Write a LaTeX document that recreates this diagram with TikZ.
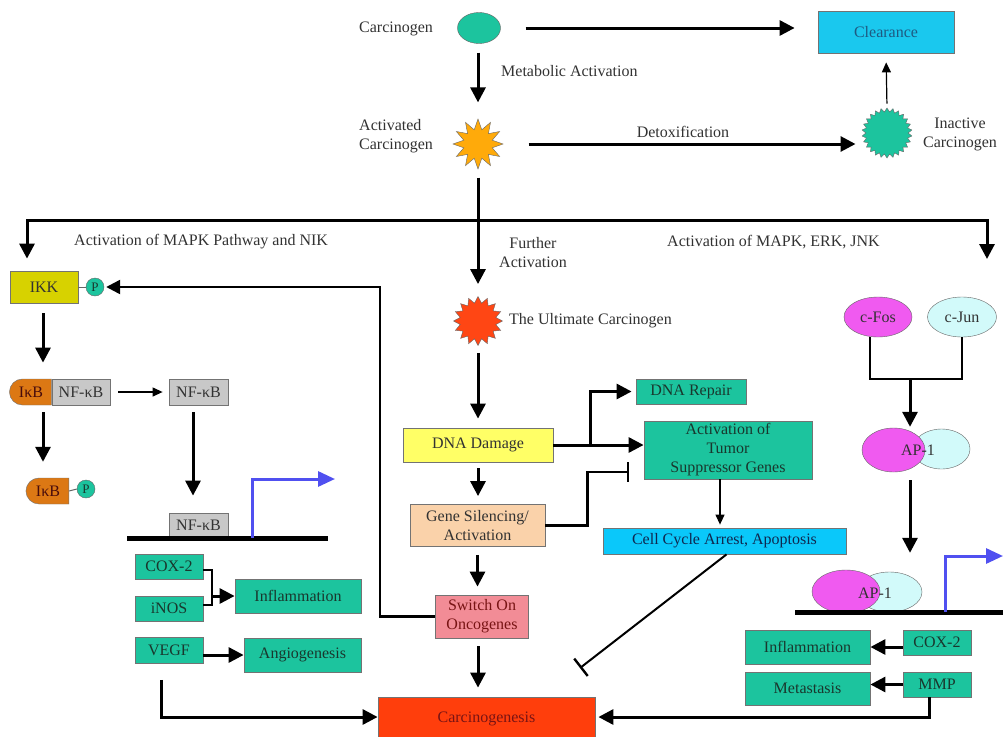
\documentclass[tikz,border=0pt]{standalone}
\usepackage{fontspec}
\setmainfont{Liberation Serif}
\usetikzlibrary{arrows.meta,shapes.geometric,shapes.misc,calc}
\definecolor{tealA}{RGB}{28,196,158}
\definecolor{cyanA}{RGB}{26,200,238}
\definecolor{cyanB}{RGB}{10,200,250}
\definecolor{yellowA}{RGB}{255,255,102}
\definecolor{peachA}{RGB}{250,210,170}
\definecolor{pinkA}{RGB}{242,140,150}
\definecolor{redA}{RGB}{255,62,12}
\definecolor{redB}{RGB}{255,70,20}
\definecolor{orangeA}{RGB}{255,170,10}
\definecolor{orangeB}{RGB}{220,120,20}
\definecolor{ikkY}{RGB}{215,210,0}
\definecolor{grayA}{RGB}{200,200,200}
\definecolor{magA}{RGB}{240,90,240}
\definecolor{ljA}{RGB}{210,250,250}
\definecolor{blueA}{RGB}{80,80,240}
\definecolor{txtG}{RGB}{25,55,45}
\definecolor{txtB}{RGB}{30,90,130}
\definecolor{txtN}{RGB}{15,40,80}
\definecolor{txtR}{RGB}{120,20,20}
\definecolor{txtD}{RGB}{50,50,50}
\begin{document}
\begin{tikzpicture}[x=1pt,y=-1pt,font=\fontsize{16}{19}\selectfont,
  box/.style={draw=black!55,line width=0.8pt,inner sep=1pt,align=center,text=txtD},
  tbox/.style={box,fill=tealA,text=txtG},
  lbl/.style={text=txtD,inner sep=0pt},
  big/.style={line width=3pt,-{Triangle[length=15pt,width=15pt]}},
  mid/.style={line width=2.4pt,-{Triangle[length=14pt,width=14pt]}},
  thinarr/.style={line width=1.2pt,-{Triangle[length=10pt,width=9pt]}},
  pcirc/.style={circle,draw=black!60,fill=tealA,minimum size=18pt,inner sep=0pt,font=\fontsize{13}{13}\selectfont,text=txtG},
  ikbshape/.style={rounded rectangle,rounded rectangle right arc=none,draw=black!55,fill=orangeB,minimum height=26pt,inner sep=0pt,text=txtR!60!black},
  gbox/.style={box,fill=grayA,minimum height=26pt},
  starnode/.style={star,draw=black!60,inner sep=0pt}]
\useasboundingbox (0,0) rectangle (1003,736);
\fill[white] (0,0) rectangle (1003,736);

% ---------- top ----------
\node[ellipse,draw=black!60,fill=tealA,minimum width=43pt,minimum height=31pt,inner sep=0pt] (carc) at (479,28) {};
\node[lbl,anchor=west] (carcL) at (359,29) {Carcinogen};
\node[box,fill=cyanA,text=txtB,minimum width=136pt,minimum height=42pt] (clear) at (886,32) {Clearance};
\node[starnode,star points=12,star point ratio=1.7,fill=orangeA,minimum size=50pt] (act) at (478,144) {};
\node[lbl,align=left,anchor=west] (actL) at (359,136) {Activated\\Carcinogen};
\node[lbl,anchor=west] (metL) at (501,71) {Metabolic Activation};
\node[starnode,star points=26,star point ratio=1.18,fill=tealA,minimum size=50pt] (inact) at (887,133) {};
\node[lbl,align=center] (inactL) at (960,134) {Inactive\\Carcinogen};
\node[lbl] (detL) at (683,132) {Detoxification};

\draw[big,shorten <=25pt,shorten >=23pt] (carc.east) -- (carc.east -| clear.west);
\draw[big,shorten <=9pt,shorten >=16pt] (carc.south -| act.north) -- (act.north);
\draw[big,shorten <=25pt,shorten >=10pt] (act.east) -- (act.east -| inact.west);
\draw[thinarr,shorten <=4pt,shorten >=9pt] (inact.north) -- (clear.south);

% ---------- branch ----------
\node[starnode,star points=16,star point ratio=1.35,fill=redB,minimum size=49pt] (ult) at (478,321) {};
\node[lbl,anchor=west] (ultL) at (509,321) {The Ultimate Carcinogen};
\node[lbl,align=center] (furL) at (533,253) {Further\\Activation};
\node[lbl,anchor=west] (mapkL) at (74,242) {Activation of MAPK Pathway and NIK};
\node[lbl,anchor=west] (mapkR) at (667,242) {Activation of MAPK, ERK, JNK};

\node[box,fill=ikkY,minimum width=68pt,minimum height=32pt] (ikk) at (44,287) {IKK};
\coordinate (jn) at (478,220);
\coordinate (rEnd) at (987,259);
\draw[line width=3pt,shorten <=8pt] (act.south) -- (jn);
\draw[big,shorten >=12pt] (jn) -| ([xshift=-17pt]ikk.north);
\draw[big] (jn) -| (rEnd);
\draw[big,shorten >=12pt] (jn) -- (ult.north);

% ---------- centre column ----------
\node[box,fill=yellowA,minimum width=150pt,minimum height=34pt] (dna) at (478,445) {DNA Damage};
\node[box,fill=peachA,minimum width=135pt,minimum height=42pt] (gene) at (477.5,525.5) {Gene Silencing/\\Activation};
\node[box,fill=pinkA,text=txtR,minimum width=93pt,minimum height=43pt] (sw) at (482,616.5) {Switch On\\Oncogenes};
\node[box,fill=redA,text=txtR,minimum width=217pt,minimum height=44pt] (cg) at (486.5,719) {Carcinogenesis};
\node[tbox,minimum width=110pt,minimum height=25pt] (repair) at (691,391.5) {DNA Repair};
\node[tbox,minimum width=168pt,minimum height=58pt] (tumor) at (728,450) {Activation of\\Tumor\\Suppressor Genes};
\node[box,fill=cyanB,text=txtN,minimum width=243pt,minimum height=26pt] (cell) at (724.5,541) {Cell Cycle Arrest, Apoptosis};

\draw[big,shorten <=7pt,shorten >=9pt] (ult.south) -- (dna.north);
\draw[big,shorten <=6pt,shorten >=8pt] (dna.south) -- (dna.south |- gene.north);
\draw[big,shorten <=8pt,shorten >=8pt] (gene.south) -- (gene.south |- sw.north);
\draw[big,shorten <=8pt,shorten >=9pt] (sw.south -| dna.south) -- (cg.north -| dna.south);
\draw[big] (dna.east) -- (dna.east -| tumor.west);
\coordinate (br) at ($(dna.east)+(37,0)$);
\draw[big,shorten >=4pt] (br) |- (repair.west);
\coordinate (inhT) at (629,472);
\draw[line width=2.4pt,-{Bar[width=20pt,line width=2.4pt]}] (gene.east) -- ++(42,0) |- (inhT);
\draw[thinarr,shorten >=3pt] ([xshift=-8pt]tumor.south) -- ([xshift=-8pt]tumor.south |- cell.north);
\coordinate (inhB) at (580,668);
\draw[line width=2pt,-{Bar[width=22pt,line width=2.4pt]}] ([xshift=2pt]cell.south) -- (inhB);

% ---------- left column ----------
\node[pcirc] (p1) at (95,287) {P};
\draw[line width=1pt,black!60] (ikk.east) -- (p1.west);
\draw[mid,shorten >=2pt] (sw.west) -- ++(-55,0) |- (p1.east);
\node[ikbshape,minimum width=42pt] (ikb1) at (31,392) {IκB};
\node[gbox,minimum width=58pt] (nf1) at (81,392) {NF-κB};
\node[gbox,minimum width=59pt] (nf2) at (198.5,392) {NF-κB};
\node[ikbshape,minimum width=43pt] (ikb2) at (48,491) {IκB};
\node[pcirc] (p2) at (86,489) {P};
\draw[line width=1pt,black!60] (ikb2.east) -- (p2.west);
\node[gbox,minimum width=59pt,minimum height=24pt] (nf3) at (198.5,525) {NF-κB};
\draw[line width=5pt] (127,538) -- (328,538);
\draw[blueA,line width=3pt,-{Triangle[length=17pt,width=15pt]}] (252,538) |- (335,479);

\draw[big,shorten <=10pt,shorten >=16pt] ([xshift=-1pt]ikk.south) -- ([xshift=-1pt]ikk.south |- nf1.north);
\draw[thinarr,shorten <=8pt,shorten >=6pt] (nf1.east) -- (nf2.west);
\draw[big,shorten <=7pt,shorten >=16pt] ([xshift=12pt]ikb1.south) -- ([xshift=12pt]ikb1.south |- ikb2.north);
\draw[big,shorten <=7pt,shorten >=17pt] ([xshift=-5.5pt]nf2.south) -- ([xshift=-5.5pt]nf2.south |- nf3.north);

\node[tbox,minimum width=68pt,minimum height=25pt] (cox) at (169,566.5) {COX-2};
\node[tbox,minimum width=68pt,minimum height=25pt] (inos) at (169,608.5) {iNOS};
\node[tbox,minimum width=126pt,minimum height=34pt] (infl) at (298,596) {Inflammation};
\node[tbox,minimum width=68pt,minimum height=26pt] (vegf) at (169,650.5) {VEGF};
\node[tbox,minimum width=117pt,minimum height=34pt] (angio) at (302.5,655) {Angiogenesis};
\draw[line width=2pt] ([yshift=-3pt]cox.east) -- ++(9,0) |- ([yshift=4pt]inos.east);
\coordinate (brk) at ($(cox.east)+(9,0)$);
\draw[big] (brk |- infl.west) -- (infl.west);
\draw[big] (vegf.east |- angio.west) -- (angio.west);
\draw[big,shorten <=16pt] ([xshift=-8pt]vegf.south) |- ([yshift=2pt]cg.west);

% ---------- right column ----------
\node[ellipse,draw=black!60,fill=magA,minimum width=68pt,minimum height=40pt,inner sep=0pt,text=txtD] (fos) at (878,317) {c-Fos};
\node[ellipse,draw=black!60,fill=ljA,minimum width=69pt,minimum height=40pt,inner sep=0pt,text=txtD] (jun) at (962,317) {c-Jun};
\coordinate (fj) at (910,379);
\draw[line width=2.5pt] ([xshift=-8pt]fos.south) |- (fj) -| (jun.south);
\node[ellipse,draw=black!60,fill=ljA,minimum width=57pt,minimum height=40pt,inner sep=0pt] (apb1) at (941.5,449) {};
\node[ellipse,draw=black!60,fill=magA,minimum width=63pt,minimum height=44pt,inner sep=0pt] (apa1) at (893.5,450) {};
\node[lbl] (ap1) at (918,450) {AP-1};
\draw[big,shorten >=1pt] (fj) -- (fj |- apa1.north);
\node[ellipse,draw=black!60,fill=ljA,minimum width=65pt,minimum height=40pt,inner sep=0pt] (apb2) at (889.5,592) {};
\node[ellipse,draw=black!60,fill=magA,minimum width=68pt,minimum height=43pt,inner sep=0pt] (apa2) at (846,591.5) {};
\node[lbl] (ap2) at (875,593) {AP-1};
\draw[big,shorten <=8pt,shorten >=19pt] (fj |- apa1.south) -- (fj |- apb2.north);
\draw[line width=5pt] (795,612) -- (1003,612);
\draw[blueA,line width=3pt,-{Triangle[length=17pt,width=15pt]}] (945,612) |- (1003,556);

\node[tbox,minimum width=125pt,minimum height=34pt] (infl2) at (807.5,647) {Inflammation};
\node[tbox,minimum width=68pt,minimum height=25pt] (cox2) at (937,642.5) {COX-2};
\node[tbox,minimum width=125pt,minimum height=33pt] (meta) at (807.5,688.5) {Metastasis};
\node[tbox,minimum width=68pt,minimum height=25pt] (mmp) at (937,684.5) {MMP};
\draw[big] (cox2.west |- infl2.east) -- (infl2.east);
\draw[big] (mmp.west) -- (mmp.west -| meta.east);
\draw[big,shorten >=3pt] ([xshift=-8pt]mmp.south) |- ([yshift=2pt]cg.east);
\end{tikzpicture}
\end{document}
